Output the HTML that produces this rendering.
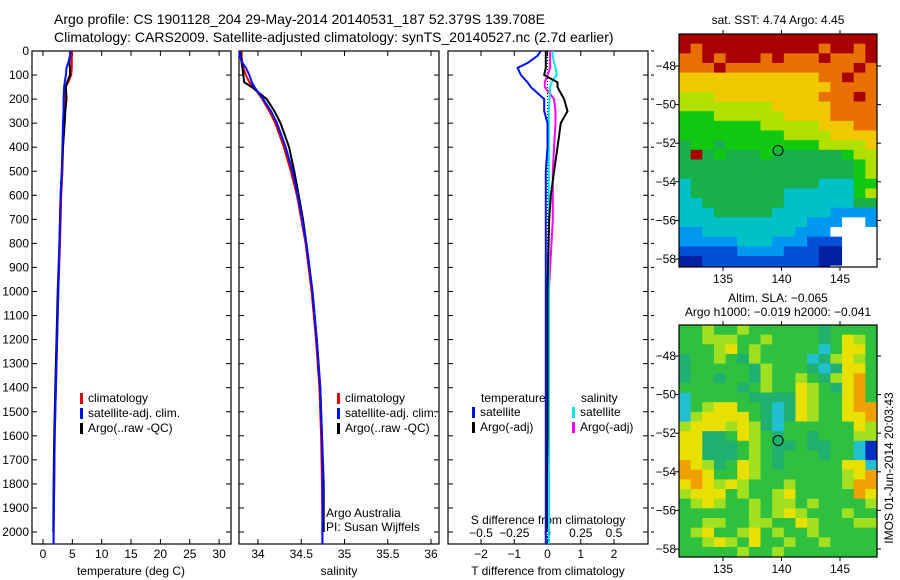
<!DOCTYPE html>
<html><head><meta charset="utf-8"><style>
body{margin:0;background:#fff;}
svg{font-family:"Liberation Sans",sans-serif;display:block;}
</style></head><body>
<svg id="fig" width="900" height="580" viewBox="0 0 900 580" xmlns="http://www.w3.org/2000/svg">
<rect width="900" height="580" fill="#fff"/>
<text x="54" y="24" font-size="14">Argo profile: CS 1901128_204 29-May-2014 20140531_187 52.379S 139.708E</text>
<text x="54" y="42" font-size="14">Climatology: CARS2009. Satellite-adjusted climatology: synTS_20140527.nc (2.7d earlier)</text>
<g id="g"></g>
</svg>
<script>
const depths=[0,20,50,70,100,130,150,200,250,300,400,500,600,700,800,1000,1200,1400,1600,1800,2000,2050];
const tClim=[4.9,4.9,4.9,4.9,4.8,4.3,3.8,3.7,3.6,3.5,3.4,3.3,3.1,3.0,2.9,2.6,2.4,2.2,2.0,1.9,1.8,1.8];
const tSat=[4.6,4.6,4.3,4.0,3.9,3.7,3.6,3.5,3.5,3.4,3.3,3.2,3.0,2.9,2.8,2.6,2.4,2.2,2.0,1.9,1.8,1.8];
const tArgo=[4.7,4.6,4.5,4.6,4.6,4.1,3.9,4.0,3.8,3.7,3.4,3.2,3.0,2.9,2.8,2.5,2.3,2.1,1.9,1.8,1.75,null];
const sClim=[33.81,33.81,33.82,33.83,33.86,33.9,33.95,34.05,34.13,34.2,34.3,34.38,34.45,34.5,34.55,34.62,34.67,34.71,34.73,34.74,34.745,34.745];
const sSat=[33.79,33.79,33.82,33.86,33.9,33.93,33.96,34.06,34.15,34.22,34.32,34.4,34.46,34.51,34.56,34.63,34.68,34.72,34.74,34.75,34.745,34.745];
const sArgo=[33.8,33.8,33.81,33.82,33.83,33.84,33.93,34.1,34.19,34.26,34.36,34.42,34.47,34.52,34.56,34.63,34.68,34.72,34.74,34.76,34.76,null];
const dTSat=[-0.2,-0.3,-0.6,-0.9,-0.8,-0.6,-0.5,-0.1,-0.1,0,0,-0.05,-0.05,-0.05,-0.05,-0.05,-0.05,-0.05,-0.05,-0.05,-0.05,-0.05];
const dTArgo=[-0.05,-0.05,-0.05,-0.05,-0.1,0.3,0.3,0.5,0.6,0.4,0.3,0.2,0.1,0.05,0.03,0,0,0,0,-0.02,-0.02,null];
const dSSat=[0.04,0.04,0.05,0.06,0.07,0.03,0.02,0.015,0.01,0.01,0.01,0.01,0.01,0.01,0.01,0.01,0.01,0.01,0.01,0.01,0.01,0.01];
const dSArgo=[0.02,0.02,0.02,0.02,0,-0.02,-0.02,0.05,0.06,0.06,0.05,0.04,0.04,0.04,0.03,0.01,0.01,0.01,0.01,0.01,0.01,null];
const depthTicks=[0,100,200,300,400,500,600,700,800,900,1000,1100,1200,1300,1400,1500,1600,1700,1800,1900,2000];
const tTicks=[0,5,10,15,20,25,30];
const sTicks=[34,34.5,35,35.5,36];
const sTickLabels=["34","34.5","35","35.5","36"];
const dTTicks=[-2,-1,0,1,2];
const dSTicks=[-0.5,-0.25,0,0.25,0.5];
const dSTickLabels=["\u22120.5","\u22120.25","0","0.25","0.5"];
const lonTicks=[135,140,145];
const latTicks=[48,50,52,54,56,58];
const argoLon=139.708, argoLat=52.379;
const sstRows=["99999999999999999","98999999999989989","88989998988898889","88898888888888898","77777777777788988","77777777777778888","66677777777788898","66666666777778888","55566666677778888","55555556666677788","55555555566667777","45545555555566667","49454445444444566","44444444444444456","44444444444444456","34444444444433355","34444444433333356","33444444433333344","33344444333332222","33333333333222WW2","2233333333222WWWW","22222333222111WWW","11111222211100WWW","00111111111100WWW","0011111111110WWWW"];
const slaRows=["gglgglggggggdgggg","gglllgglggggdgylg","ggglyglgggggcgyyg","dgglgdlggggcdlylg","dgggggdlgggdcdyyg","dggdggdlgglgdlyog","gggggdglggylgdyog","cgggggddddylggyog","cglyyggdcdylggyoo","clyyyygdcdylggyyo","lyyylyldcggggggyl","yyddgylgdggdgggll","yydddglgddgddggcb","yydddglgdgggdggcb","oyldgylgdgggggyyc","ooyggylggggggglyo","yoylylggglggggloo","lyyyglgglygggggoy","glylgglgllglggggl","gggggglglylggglgg","ggllggllggylgggll","glygglyglgglggggg","gglylgygglgglgggg","ggggglgglgggggggg","ggggglgglgggggggg"];
const sstColors={"0":"#0020a0","1":"#0050d8","2":"#0098f0","3":"#00c0c8","4":"#18b048","5":"#10c810","6":"#b0e000","7":"#f0c800","8":"#e87000","9":"#a80000","W":"#ffffff"};
const slaColors={g:"#30c040",d:"#20b070",l:"#a0e020",y:"#e8e000",o:"#f0a000",c:"#20c0d0",b:"#0030c0"};

const NS="http://www.w3.org/2000/svg";
const G=document.getElementById('g');
function el(t,a,p){const e=document.createElementNS(NS,t);for(const k in a)e.setAttribute(k,a[k]);(p||G).appendChild(e);return e;}
const Y0=51,PPM=0.2405;
function yD(d){return Y0+d*PPM;}
const panels=[
 {name:'temperature-panel',x0:32,x1:231,fx:v=>43+v*5.87},
 {name:'salinity-panel',x0:239,x1:439,fx:v=>258+(v-34)*86.5},
 {name:'difference-panel',x0:448,x1:648,fx:v=>547.5+v*33.25,fs:v=>547.5+v*133}
];
const YB=544;
function line(xs,ys,color,name,w){
 let d='';let pen=false;
 for(let i=0;i<xs.length;i++){if(xs[i]==null){pen=false;continue;}d+=(pen?'L':'M')+xs[i].toFixed(1)+','+ys[i].toFixed(1);pen=true;}
 const p=el('path',{d:d,fill:'none',stroke:color,'stroke-width':w||2});
 
 
}
panels.forEach((P,pi)=>{
 const r=el('rect',{x:P.x0,y:Y0,width:P.x1-P.x0,height:YB-Y0,fill:'#fff',stroke:'#000','stroke-width':1.2});
 
 
 depthTicks.forEach(d=>{
  el('line',{x1:P.x0,x2:P.x0+5,y1:yD(d),y2:yD(d),stroke:'#000'});
  el('line',{x1:P.x1,x2:P.x1-5,y1:yD(d),y2:yD(d),stroke:'#000'});
  if(pi==2) el('line',{x1:P.x1+3,x2:P.x1+6,y1:yD(d),y2:yD(d),stroke:'#000'});
 });
});
depthTicks.forEach(d=>{
 const t=el('text',{x:29,y:yD(d)+4,'font-size':12,'text-anchor':'end'});t.textContent=d;
 
 
});
function xticks(P,ticks,labels,f,ly){
 ticks.forEach((v,i)=>{const x=f(v);
  el('line',{x1:x,x2:x,y1:YB,y2:YB-5,stroke:'#000'});el('line',{x1:x,x2:x,y1:Y0,y2:Y0+5,stroke:'#000'});
  const t=el('text',{x:x,y:ly,'font-size':12,'text-anchor':'middle'});t.textContent=labels[i];
  
  
 });
}
xticks(panels[0],tTicks,tTicks.map(String),panels[0].fx,558);
xticks(panels[1],sTicks,sTickLabels,panels[1].fx,558);
xticks(panels[2],dTTicks,dTTicks.map(v=>v<0?'\u2212'+(-v):String(v)),panels[2].fx,558);
dSTicks.forEach((v,i)=>{const t=el('text',{x:panels[2].fs(v),y:537,'font-size':12,'text-anchor':'middle'});t.textContent=dSTickLabels[i];
 
 });
function lbl(x,y,s,name,anchor){const t=el('text',{x:x,y:y,'font-size':12,'text-anchor':anchor||'start'});t.textContent=s;
 
 return t;}
lbl(131,575,'temperature (deg C)','x-axis-title-temperature','middle');
lbl(339,575,'salinity','x-axis-title-salinity','middle');
lbl(548,575,'T difference from climatology','x-axis-title-t-diff','middle');
lbl(548,524,'S difference from climatology','s-diff-axis-title','middle');
lbl(326,517,'Argo Australia','institution-label');
lbl(326,531,'PI: Susan Wijffels','pi-label');
// zero dotted line
el('line',{x1:547.5,x2:547.5,y1:Y0,y2:YB,stroke:'#000','stroke-dasharray':'1,2'});
const ys=depths.map(yD);
const fT=panels[0].fx,fS=panels[1].fx,fd=panels[2].fx,fs=panels[2].fs;
line(tClim.map(fT),ys,'#e00000','temp-climatology-line');
line(tArgo.map(v=>v==null?null:fT(v)),ys,'#000','temp-argo-line');
line(tSat.map(fT),ys,'#0010ff','temp-satellite-line');
line(sClim.map(fS),ys,'#e00000','sal-climatology-line');
line(sArgo.map(v=>v==null?null:fS(v)),ys,'#000','sal-argo-line');
line(sSat.map(fS),ys,'#0010ff','sal-satellite-line');
line(dSArgo.map(v=>v==null?null:fs(v)),ys,'#ff00ff','s-diff-argo-line');
line(dSSat.map(fs),ys,'#00e8e8','s-diff-satellite-line');
line(dTArgo.map(v=>v==null?null:fd(v)),ys,'#000','t-diff-argo-line');
line(dTSat.map(fd),ys,'#0010ff','t-diff-satellite-line');
// legends
function legend(x,y,items){items.forEach((it,i)=>{
 const r=el('rect',{x:x,y:y+i*15-9,width:3,height:11,fill:it[0]});
 
 
 lbl(x+8,y+i*15,it[1],'legend-entry');});}
legend(80,402,[['#e00000','climatology'],['#0010ff','satellite-adj. clim.'],['#000','Argo(..raw -QC)']]);
legend(337,402,[['#e00000','climatology'],['#0010ff','satellite-adj. clim.'],['#000','Argo(..raw -QC)']]);
lbl(481,402,'temperature','legend-title-temperature');
lbl(581,402,'salinity','legend-title-salinity');
legend(472,416,[['#0010ff','satellite'],['#000','Argo(-adj)']]);
legend(572,416,[['#00e8e8','satellite'],['#ff00ff','Argo(-adj)']]);
// maps
const MX0=679,MX1=877,LON0=131.3;
function mx(lon){return 723+(lon-135)*11.7;}
function map(y0,y1,lat48,rows,colors,name,title1,title2){
 const my=lat=>lat48+(lat-48)*19.3;
 const g=el('g',{});
 
 const latTop=48+(y0-lat48)/19.3;
 const nr=rows.length,nc=rows[0].length;
 const cw=(MX1-MX0)/nc,ch=0.5*19.3;
 rows.forEach((row,ri)=>{for(let ci=0;ci<nc;ci++){
  const yy=my(latTop+ri*0.5);const h=Math.min(ch,y1-yy);if(h<=0)continue;
  el('rect',{x:MX0+ci*cw,y:yy,width:cw+0.5,height:h+0.5,fill:colors[row[ci]]},g);}});
 el('rect',{x:MX0,y:y0,width:MX1-MX0,height:y1-y0,fill:'none',stroke:'#000','stroke-width':1.2},g);
 lonTicks.forEach(l=>{el('line',{x1:mx(l),x2:mx(l),y1:y0,y2:y0-4,stroke:'#000'},g);el('line',{x1:mx(l),x2:mx(l),y1:y1,y2:y1+4,stroke:'#000'},g);
  const t=el('text',{x:mx(l),y:y1+16,'font-size':12,'text-anchor':'middle'},g);t.textContent=l;
  
  });
 latTicks.forEach(l=>{const y=my(l);el('line',{x1:MX0,x2:MX0-4,y1:y,y2:y,stroke:'#000'},g);el('line',{x1:MX1,x2:MX1+4,y1:y,y2:y,stroke:'#000'},g);
  const t=el('text',{x:676,y:y+4,'font-size':12,'text-anchor':'end'},g);t.textContent='\u2212'+l;
  
  });
 const c=el('circle',{cx:mx(argoLon),cy:my(argoLat),r:5,fill:'none',stroke:'#000'},g);
 
 
}
map(34,267,66,sstRows,sstColors,'sst-map');
map(325,557,356,slaRows,slaColors,'sla-map');
lbl(778,24,'sat. SST: 4.74 Argo: 4.45','sst-map-title','middle');
lbl(778,302,'Altim. SLA: \u22120.065','sla-map-title','middle');
lbl(778,316,'Argo h1000: \u22120.019 h2000: \u22120.041','argo-height-label','middle');
const im=lbl(0,0,'IMOS 01-Jun-2014 20:03:43','imos-timestamp','middle');
im.setAttribute('transform','translate(893,468) rotate(-90)');
</script>
</body></html>
